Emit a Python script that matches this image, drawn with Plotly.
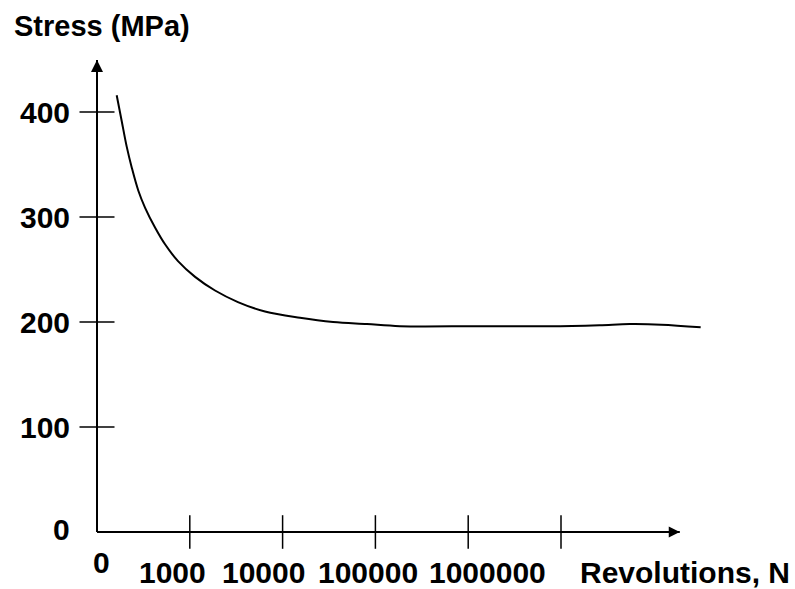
import numpy as np
import plotly.graph_objects as go

# ---------------- data ----------------
revolutions = [163, 185, 209, 237, 279, 329, 422, 541, 746, 1140, 1870, 3300, 6460,
               15400, 35000, 81000, 184000, 1.3e6, 7.5e6, 2.6e7, 5.5e7, 1.2e8, 3.2e8]
stress_mpa = [416, 391, 367, 347, 325, 309, 290, 274, 258, 243, 230, 219, 210,
              204, 200, 198, 196, 196, 196, 197, 198, 197.5, 195]

x_tick_values = [1e3, 1e4, 1e5, 1e6, 1e7]
x_tick_labels = ["1000", "10000", "100000", "1000000", ""]
y_tick_values = [0, 100, 200, 300, 400]
y_tick_labels = ["0", "100", "200", "300", "400"]
origin_n = 100          # position of the "0" origin on the log axis
x_axis_end_n = 10 ** 8.28
y_axis_end = 449.5

x_title = "Revolutions, N"
y_title = "Stress (MPa)"

# ---------------- layout geometry ----------------
W, H = 795, 589
L, R, T, B = 60, 60, 30, 30
plot_w, plot_h = W - L - R, H - T - B
ORIGIN_X_PX, DECADE_PX = 97, 92.8
ORIGIN_Y_PX, UNIT_PX = 532, 1.05

x_range = [np.log10(origin_n) + (L - ORIGIN_X_PX) / DECADE_PX,
           np.log10(origin_n) + (W - R - ORIGIN_X_PX) / DECADE_PX]
y_range = [(ORIGIN_Y_PX - (H - B)) / UNIT_PX, (ORIGIN_Y_PX - T) / UNIT_PX]


def px_to_paper_x(px):
    return (px - L) / plot_w


def py_to_paper_y(py):
    return 1 - (py - T) / plot_h


FONT = "Arial, Liberation Sans, Helvetica, sans-serif"
BLACK = "#000000"

fig = go.Figure()

# axes lines
fig.add_trace(go.Scatter(x=[origin_n, origin_n], y=[0, y_axis_end], mode="lines",
                         line=dict(color=BLACK, width=2), hoverinfo="skip"))
fig.add_trace(go.Scatter(x=[origin_n, x_axis_end_n], y=[0, 0], mode="lines",
                         line=dict(color=BLACK, width=2), hoverinfo="skip"))
# arrowheads
fig.add_trace(go.Scatter(x=[origin_n], y=[y_axis_end], mode="markers", cliponaxis=False,
                         marker=dict(symbol="arrow-up", size=12, color=BLACK,
                                     line=dict(width=0)), hoverinfo="skip"))
fig.add_trace(go.Scatter(x=[x_axis_end_n], y=[0], mode="markers", cliponaxis=False,
                         marker=dict(symbol="arrow-right", size=11, color=BLACK,
                                     line=dict(width=0)), hoverinfo="skip"))
# tick crosses
fig.add_trace(go.Scatter(x=[origin_n] * (len(y_tick_values) - 1), y=y_tick_values[1:],
                         mode="markers", cliponaxis=False,
                         marker=dict(symbol="line-ew", size=25,
                                     line=dict(color=BLACK, width=1.5)),
                         hoverinfo="skip"))
fig.add_trace(go.Scatter(x=x_tick_values, y=[0] * len(x_tick_values),
                         mode="markers", cliponaxis=False,
                         marker=dict(symbol="line-ns", size=24,
                                     line=dict(color=BLACK, width=1.5)),
                         hoverinfo="skip"))
# S-N curve
fig.add_trace(go.Scatter(x=revolutions, y=stress_mpa, mode="lines",
                         line=dict(color=BLACK, width=2, shape="spline", smoothing=1.0),
                         name="Stress"))

annotations = []
label_font = dict(family=FONT, size=30, color=BLACK, weight="bold")

# y tick labels
for v, t in zip(y_tick_values, y_tick_labels):
    annotations.append(dict(text=t, xref="paper", yref="y", x=px_to_paper_x(72), y=v,
                            xanchor="right", yanchor="middle", showarrow=False,
                            font=label_font, yshift=3 if v == 0 else 0))
# x tick labels
x_shifts = [-17, -19, -7, 19, 0]
for v, t, s in zip(x_tick_values, x_tick_labels, x_shifts):
    if not t:
        continue
    annotations.append(dict(text=t, xref="x", yref="paper", x=np.log10(v),
                            y=py_to_paper_y(572), xanchor="center", yanchor="middle",
                            xshift=s, showarrow=False, font=label_font))
# origin "0" on x axis
annotations.append(dict(text="0", xref="x", yref="paper", x=np.log10(origin_n),
                        y=py_to_paper_y(562), xanchor="center", yanchor="middle",
                        xshift=4, showarrow=False, font=label_font))
# axis titles
annotations.append(dict(text=x_title, xref="paper", yref="paper",
                        x=px_to_paper_x(685), y=py_to_paper_y(572),
                        xanchor="center", yanchor="middle", showarrow=False,
                        font=dict(family=FONT, size=30, color=BLACK, weight="bold")))
annotations.append(dict(text=y_title, xref="paper", yref="paper",
                        x=px_to_paper_x(12), y=py_to_paper_y(26),
                        xanchor="left", yanchor="middle", showarrow=False,
                        font=dict(family=FONT, size=29, color=BLACK, weight="bold")))

fig.update_layout(
    width=W, height=H,
    margin=dict(l=L, r=R, t=T, b=B),
    paper_bgcolor="white", plot_bgcolor="white",
    showlegend=False,
    xaxis=dict(type="log", range=x_range, visible=False, showgrid=False, zeroline=False),
    yaxis=dict(range=y_range, visible=False, showgrid=False, zeroline=False),
    annotations=annotations,
)

fig.write_html("out.html", config={"displayModeBar": False},
               post_script="document.body.style.margin='0';document.body.style.overflow='hidden';")
